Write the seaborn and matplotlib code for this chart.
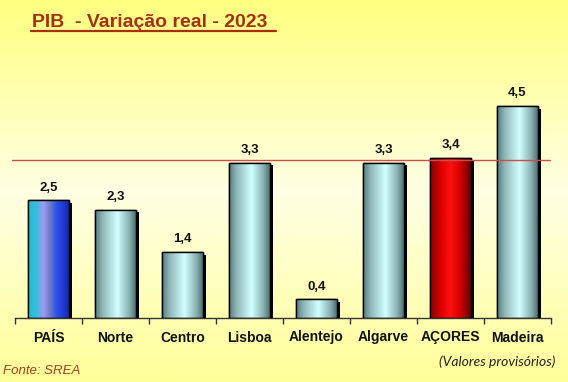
import numpy as np
import pandas as pd
import matplotlib
matplotlib.use("Agg")
import matplotlib.pyplot as plt
import seaborn as sns
from matplotlib import patheffects
from matplotlib.colors import LinearSegmentedColormap
from matplotlib.lines import Line2D

categories = ["PAÍS", "Norte", "Centro", "Lisboa", "Alentejo", "Algarve", "AÇORES", "Madeira"]
values = [2.5, 2.3, 1.4, 3.3, 0.4, 3.3, 3.4, 4.5]
value_labels = ["2,5", "2,3", "1,4", "3,3", "0,4", "3,3", "3,4", "4,5"]
reference_level = [3.36]
title_text = "PIB  - Variação real - 2023 "
source_text = "Fonte: SREA"
note_text = "(Valores provisórios)"

sns.set_theme(style="white")
plt.rcParams["font.family"] = ["Liberation Sans", "DejaVu Sans"]

W, H = 568, 382
fig = plt.figure(figsize=(W / 100, H / 100), dpi=100)

# background gradient
bg = fig.add_axes([0, 0, 1, 1], zorder=-10)
bg_cmap = LinearSegmentedColormap.from_list(
    "bg", [(0.0, "#ffff99"), (0.5, "#ffffe4"), (1.0, "#ffff80")])
grad = np.linspace(0, 1, 256).reshape(-1, 1)
bg.imshow(grad, aspect="auto", cmap=bg_cmap, extent=[0, 1, 0, 1], origin="lower")
bg.set_axis_off()

left, right = 15 / W, 551 / W
bottom = (H - 318) / H
px_per_unit = (318 - 106) / 4.5
ymax = 5.0
top = (H - (318 - ymax * px_per_unit)) / H
ax = fig.add_axes([left, bottom, right - left, top - bottom])
ax.patch.set_alpha(0)

df = pd.DataFrame({"cat": categories, "val": values})
sns.barplot(data=df, x="cat", y="val", ax=ax, width=0.6, color="#9fc5c5",
            edgecolor="black", linewidth=1.0, saturation=1)

ax.set_xlim(-0.5, len(categories) - 0.5)
ax.set_ylim(0, ymax)

grey_cmap = LinearSegmentedColormap.from_list(
    "grey", [(0.0, "#557a7b"), (0.18, "#8fb6b6"), (0.55, "#d2ffff"),
             (0.85, "#86aeae"), (1.0, "#4e6e6f")])
pais_cmap = LinearSegmentedColormap.from_list(
    "pais", [(0.0, "#18c0d0"), (0.22, "#40b8e0"), (0.38, "#a09af0"),
             (0.55, "#6a78c8"), (0.7, "#2c50f0"), (1.0, "#1428b0")])
red_cmap = LinearSegmentedColormap.from_list(
    "red", [(0.0, "#8a0000"), (0.3, "#e00000"), (0.5, "#ff1010"),
            (0.75, "#d00000"), (1.0, "#600000")])

hgrad = np.linspace(0, 1, 256).reshape(1, -1)
for i, patch in enumerate(ax.patches):
    x0 = patch.get_x()
    w = patch.get_width()
    h = patch.get_height()
    cmap = pais_cmap if categories[i] == "PAÍS" else (red_cmap if categories[i] == "AÇORES" else grey_cmap)
    patch.set_path_effects([
        patheffects.SimplePatchShadow(offset=(2.4, -2.0), shadow_rgbFace="black", alpha=1.0),
        patheffects.Normal()])
    patch.set_zorder(2)
    im = ax.imshow(hgrad, aspect="auto", cmap=cmap, extent=[x0, x0 + w, 0, h],
                   zorder=2.5, interpolation="bilinear")
    im.set_clip_path(patch)
    edge = plt.Rectangle((x0, 0), w, h, fill=False, edgecolor="black", linewidth=1.0, zorder=3)
    ax.add_patch(edge)
    ax.text(x0 + w / 2, h + 0.14, value_labels[i], ha="center", va="bottom",
            fontsize=9.5, fontweight="bold", color="#111111", zorder=5)

ax.set_xlim(-0.5, len(categories) - 0.5)
ax.set_ylim(0, ymax)

# reference line
ax.plot([-0.55, 7.49], [reference_level[0], reference_level[0]], color="#d24a4a",
        linewidth=1.0, zorder=4, clip_on=False)

for s in ["top", "right", "left"]:
    ax.spines[s].set_visible(False)
ax.spines["bottom"].set_color("#333333")
ax.spines["bottom"].set_linewidth(1.0)
ax.set_yticks([])
ax.set_xlabel("")
ax.set_ylabel("")
ax.set_xticks(range(len(categories)))
ax.set_xticklabels(categories, fontsize=10, fontweight="bold", color="#111111")
ax.tick_params(axis="x", which="major", length=0, pad=9)
ax.set_xticks(np.arange(-0.5, len(categories), 1.0), minor=True)
ax.tick_params(axis="x", which="minor", length=4, width=1, color="#333333", bottom=True)

# title with underline
fig.text(32 / W, 1 - 27 / H, title_text, fontsize=14, fontweight="bold",
         color="#a5300f", ha="left", va="baseline")
fig.add_artist(Line2D([31 / W, 276 / W], [1 - 31 / H, 1 - 31 / H], color="#a5300f", linewidth=1.6))

fig.text(3 / W, 1 - 371 / H, source_text, fontsize=9.5, style="italic",
         color="#a0401a", ha="left", va="center")
fig.text(555 / W, 1 - 362 / H, note_text, fontsize=10, style="italic",
         color="#222222", ha="right", va="center", family=["Lato", "DejaVu Sans"])

fig.savefig("out.png", dpi=100)
